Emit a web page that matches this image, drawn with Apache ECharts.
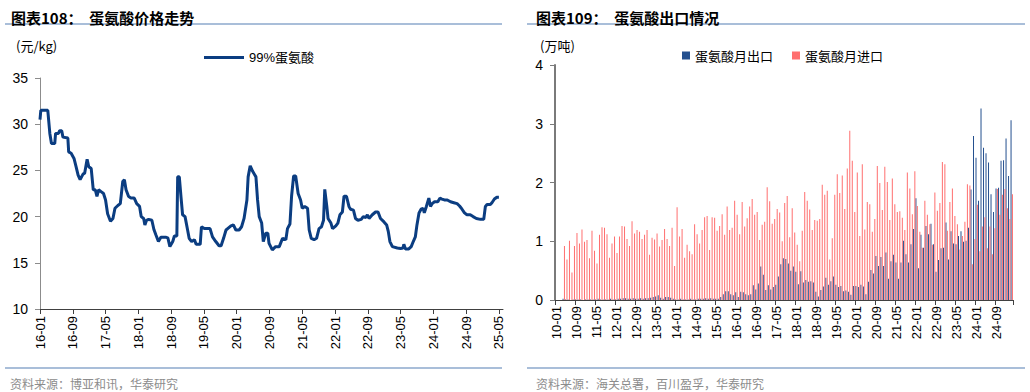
<!DOCTYPE html>
<html><head><meta charset="utf-8">
<script src="https://cdn.jsdelivr.net/npm/echarts@6/dist/echarts.min.js"></script>
<style>html,body{margin:0;padding:0;background:#fff}#c{width:1030px;height:392px}</style>
</head><body><div id="c"></div>
<script>
// ---------- Left chart: 99% methionine price (yuan/kg) ----------
// x = months since 2016-01
const priceMonths = [0,0.2,1.9,2.4,2.8,3.6,3.8,4.5,4.8,5.3,5.6,6.8,7.0,7.6,8.3,8.8,9.3,9.8,10.5,10.9,11.5,11.9,12.5,13.0,13.5,13.9,14.3,14.9,15.5,16.0,16.5,17.2,17.8,18.3,19.0,19.6,20.2,20.6,21.0,21.6,22.2,23.0,23.6,24.3,24.7,25.3,25.6,26.0,26.5,27.3,27.8,28.3,28.9,29.5,30.8,31.2,31.7,32.4,32.8,33.4,33.6,34.0,34.4,34.8,35.4,36.0,36.4,37.0,37.7,38.1,39.1,39.4,40.1,41.5,42.1,42.9,43.7,44.2,44.8,45.4,45.8,46.6,47.2,47.8,48.6,49.2,49.8,50.5,50.8,51.3,51.9,52.7,53.1,53.5,54.1,54.5,55.1,55.6,55.9,56.7,57.5,58.4,59.2,60.0,60.4,61.0,61.4,61.9,62.4,63.0,63.6,64.0,64.6,65.3,65.7,66.2,66.9,67.5,68.1,68.7,69.2,69.5,70.0,70.3,71.0,71.4,72.2,72.7,73.2,73.8,74.2,74.8,75.4,75.8,76.5,77.0,77.6,78.4,78.9,79.5,79.9,80.3,81.1,81.9,82.5,83.1,83.9,84.6,85.0,85.4,86.0,87.2,88.0,88.6,88.8,89.2,90.0,90.6,91.1,91.6,92.0,92.5,93.0,93.5,93.8,94.3,94.9,95.3,95.7,96.3,97.1,97.6,98.1,98.7,99.4,100.2,101.0,101.8,102.4,103.0,103.6,104.2,105.0,105.7,106.5,107.5,108.3,108.7,109.1,109.9,110.3,110.9,111.5,112.0];
const priceValues = [30.5,31.5,31.5,29.0,27.9,27.9,29.0,29.0,29.3,29.3,28.6,28.5,27.0,26.85,26.3,25.4,24.5,24.0,24.6,24.7,26.2,25.4,25.2,22.9,22.9,22.2,22.9,22.7,22.5,21.8,20.3,19.5,19.8,20.9,21.2,21.4,23.8,24.0,22.9,22.2,22.0,22.0,21.4,21.1,20.0,19.8,19.1,19.6,19.7,19.6,18.6,18.0,17.3,17.76,17.76,17.7,16.75,17.3,17.9,17.9,24.3,24.3,22.2,20.2,20.0,18.6,17.65,17.3,17.5,17.0,17.0,18.9,18.7,18.7,17.8,17.3,16.85,16.85,17.65,18.55,18.7,19.0,19.1,18.55,18.55,18.9,19.8,21.8,24.3,25.5,24.9,24.3,21.8,20.0,19.3,17.3,18.2,18.2,17.1,16.4,16.75,16.75,17.65,17.5,18.7,19.2,22.2,24.4,24.4,22.5,21.8,20.9,21.1,20.9,18.55,17.65,17.5,17.65,18.7,18.9,19.6,22.95,21.1,19.8,19.3,18.7,19.0,19.3,20.2,20.5,22.2,22.2,21.1,20.8,20.7,19.8,19.6,19.7,20.0,19.9,20.2,19.8,20.2,20.5,20.5,19.8,19.45,19.1,18.4,17.3,16.75,16.6,16.55,16.6,17.0,16.5,16.5,16.75,17.3,17.8,19.1,20.4,20.8,20.9,20.4,21.1,22.0,21.1,21.4,21.6,21.6,22.0,21.9,21.8,21.8,21.6,21.5,21.4,21.15,20.8,20.4,20.2,20.2,20.0,19.8,19.7,19.7,21.1,21.3,21.3,21.5,21.9,22.1,22.1];
const priceTickLabels = ['16-01','16-09','17-05','18-01','18-09','19-05','20-01','20-09','21-05','22-01','22-09','23-05','24-01','24-09','25-05'];

// ---------- Right chart: monthly export / import (10k tonnes), 2010-01 .. 2025-03 ----------
const tradeStartYear = 2010, tradeMonthCount = 183;
const tradeMonths = [];
for (let k = 0; k < tradeMonthCount; k++) {
  const y = tradeStartYear + Math.floor(k / 12), m = k % 12 + 1;
  tradeMonths.push(String(y).slice(2) + '-' + (m < 10 ? '0' + m : m));
}
const exportValues = [null,null,null,
0.02,
0.01,0.01,0.00,0.01,0.01,0.01,0.01,0.00,0.01,0.01,0.01,0.01,0.01,0.02,0.01,0.01,0.01,0.01,0.02,0.01,0.01,0.02,
0.02,0.03,0.03,0.02,0.02,0.03,0.02,0.02,0.03,0.02,0.03,0.03,
0.04,0.05,0.06,0.08,0.04,0.02,0.05,0.05,0.04,0.02,
0.01,0.01,0.02,0.01,0.01,0.01,0.02,0.01,0.01,0.02,0.02,0.02,
0.03,0.02,0.03,0.02,0.02,0.02,0.05,
0.10,0.15,0.15,0.10,0.08,0.13,0.05,0.14,0.13,0.10,0.08,0.10,0.25,0.18,0.28,0.57,0.43,0.17,0.25,0.18,0.22,0.26,0.40,
0.61,0.71,0.70,
0.62,0.50,0.57,0.48,0.27,0.49,0.30,0.34,0.31,0.32,
0.30,0.14,0.06,0.17,0.23,0.38,0.26,0.32,0.40,0.26,
0.22,0.24,0.15,0.16,0.14,0.09,0.24,0.24,0.22,0.26,
0.23,0.10,0.31,0.51,0.45,0.75,0.58,0.73,0.58,0.81,
0.36,0.66,0.77,0.64,0.36,0.64,1.01,0.78,0.64,0.95,
1.21,1.73,0.54,1.11,0.89,1.26,1.12,1.30,0.95,0.48,
0.68,0.88,0.89,1.32,0.69,1.17,0.96,0.95,1.09,1.17,
0.99,1.01,1.23,1.88,2.79,2.42,1.69,3.26,2.59,2.50,
2.34,1.80,1.50,1.90,1.91,2.37,2.38,2.75,2.11,3.06];
const importValues = [null,null,null,
0.92,0.69,1.01,0.47,0.92,1.14,0.96,1.20,0.99,1.02,
0.71,1.18,0.84,0.62,1.11,1.24,1.23,1.12,0.72,0.96,
1.08,0.80,1.08,1.26,1.25,1.04,0.92,1.34,1.13,1.19,
1.16,1.04,1.11,1.19,0.77,1.06,1.03,1.13,0.91,1.02,
1.21,1.04,0.92,1.23,0.58,1.58,1.08,1.21,0.72,0.94,
0.83,0.78,1.29,1.12,0.96,1.19,1.41,1.43,0.85,1.41,
1.40,1.18,1.26,1.46,1.11,1.59,1.19,1.23,1.69,1.45,
1.12,1.67,1.25,1.39,1.59,1.72,1.45,1.50,1.02,1.28,
1.33,1.92,1.68,1.30,1.38,1.55,1.49,
1.00,1.65,1.77,
1.07,1.56,1.15,0.94,0.66,1.18,1.84,1.69,1.54,1.19,
1.36,1.35,1.38,1.96,1.79,1.86,0.69,1.05,1.79,2.14,
1.82,2.12,1.55,2.24,2.88,2.37,1.50,2.17,1.09,2.31,
1.20,1.67,1.63,1.16,1.38,2.28,1.99,1.53,2.27,2.01,
1.36,2.07,1.63,1.50,1.51,1.40,1.19,2.17,1.90,1.46,
2.19,1.60,1.16,0.89,1.69,1.45,1.29,0.94,1.83,1.52,
1.65,2.35,2.31,1.18,1.67,1.90,1.43,1.29,0.86,1.09,
1.33,1.97,1.95,0.61,1.04,1.62,0.83,1.25,1.41,0.88,
1.25,0.78,1.22,1.89,1.45,1.79,1.89,1.56,1.38,1.80];

const pricePairs = priceMonths.map((m, i) => [m, priceValues[i]]);

const LATIN = '"Liberation Sans", Arial, "Noto Sans CJK SC", sans-serif';
const CJK = '"Noto Sans CJK SC", "Liberation Sans", sans-serif';
const ruleColor = '#8DA9CC';

const chart = echarts.init(document.getElementById('c'), null, {renderer: 'svg', width: 1030, height: 392});
chart.setOption({
  animation: false,
  textStyle: {fontFamily: LATIN},
  title: [
    {text: '图表108：  蛋氨酸价格走势', left: 6, top: 5, textStyle: {fontSize: 15, fontWeight: 'bold', color: '#000', fontFamily: CJK}},
    {text: '图表109：  蛋氨酸出口情况', left: 531, top: 5, textStyle: {fontSize: 15, fontWeight: 'bold', color: '#000', fontFamily: CJK}},
    {text: '(元/kg)', left: 11, top: 34, textStyle: {fontSize: 13, fontWeight: 'normal', color: '#000', fontFamily: CJK}},
    {text: '(万吨)', left: 535, top: 34, textStyle: {fontSize: 13, fontWeight: 'normal', color: '#000', fontFamily: CJK}},
    {text: '资料来源：博亚和讯，华泰研究', left: 5, top: 372, textStyle: {fontSize: 12, fontWeight: 'normal', color: '#8c8c8c', fontFamily: CJK}},
    {text: '资料来源：海关总署，百川盈孚，华泰研究', left: 531, top: 372, textStyle: {fontSize: 12, fontWeight: 'normal', color: '#8c8c8c', fontFamily: CJK}}
  ],
  graphic: [
    {type: 'line', shape: {x1: 5, y1: 24, x2: 502, y2: 24}, style: {stroke: ruleColor, lineWidth: 1.5}},
    {type: 'line', shape: {x1: 527, y1: 24, x2: 1025, y2: 24}, style: {stroke: ruleColor, lineWidth: 1.5}},
    {type: 'line', shape: {x1: 5, y1: 368, x2: 502, y2: 368}, style: {stroke: ruleColor, lineWidth: 1.5}},
    {type: 'line', shape: {x1: 527, y1: 368, x2: 1025, y2: 368}, style: {stroke: ruleColor, lineWidth: 1.5}}
  ],
  legend: [
    {data: ['99%蛋氨酸'], left: 199, top: 46, icon: 'rect', itemWidth: 40, itemHeight: 3,
     textStyle: {fontSize: 13, color: '#000', fontFamily: LATIN}},
    {data: ['蛋氨酸月出口', '蛋氨酸月进口'], left: 677, top: 44, icon: 'rect', itemWidth: 8, itemHeight: 8, itemGap: 19,
     textStyle: {fontSize: 13, color: '#000', fontFamily: CJK}}
  ],
  grid: [
    {left: 40, top: 78, width: 463, height: 231, containLabel: false, outerBoundsMode: 'none'},
    {left: 555, top: 65, width: 458, height: 235, containLabel: false, outerBoundsMode: 'none'}
  ],
  xAxis: [
    {type: 'value', gridIndex: 0, min: 0, max: 113, interval: 8,
     axisLine: {lineStyle: {color: '#404040', width: 1}},
     axisTick: {show: true, length: 5, lineStyle: {color: '#404040'}},
     splitLine: {show: false},
     axisLabel: {rotate: 90, margin: 7, fontSize: 13, color: '#000', showMaxLabel: false, showMinLabel: true,
       formatter: v => (v % 8 === 0 && priceTickLabels[v / 8] !== undefined) ? priceTickLabels[v / 8] : ''}},
    {type: 'category', gridIndex: 1, data: tradeMonths, boundaryGap: true,
     axisLine: {lineStyle: {color: '#404040', width: 1}},
     axisTick: {show: true, interval: 7, length: 5, alignWithLabel: false, lineStyle: {color: '#404040'}},
     axisLabel: {interval: 7, rotate: 90, margin: 6, fontSize: 13, color: '#000'}}
  ],
  yAxis: [
    {type: 'value', gridIndex: 0, min: 10, max: 35, interval: 5,
     axisLine: {show: true, lineStyle: {color: '#8c8c8c', width: 1}},
     axisTick: {show: true, length: 5, lineStyle: {color: '#8c8c8c'}},
     splitLine: {show: false},
     axisLabel: {margin: 12, fontSize: 14, color: '#000'}},
    {type: 'value', gridIndex: 1, min: 0, max: 4, interval: 1,
     axisLine: {show: true, lineStyle: {color: '#7a7a7a', width: 2}},
     axisTick: {show: true, length: 5, lineStyle: {color: '#7a7a7a'}},
     splitLine: {show: false},
     axisLabel: {margin: 12, fontSize: 14, color: '#000'}}
  ],
  series: [
    {type: 'line', name: '99%蛋氨酸', xAxisIndex: 0, yAxisIndex: 0, data: pricePairs,
     showSymbol: false, symbol: 'none', lineStyle: {width: 3, color: '#0B3D81'}, itemStyle: {color: '#0B3D81'}},
    {type: 'bar', name: '蛋氨酸月出口', xAxisIndex: 1, yAxisIndex: 1, data: exportValues,
     barWidth: 1, barGap: '40%', itemStyle: {color: '#24508F'}},
    {type: 'bar', name: '蛋氨酸月进口', xAxisIndex: 1, yAxisIndex: 1, data: importValues,
     barWidth: 1, barGap: '40%', itemStyle: {color: '#FF6F6F'}}
  ]
});
</script>
</body></html>
